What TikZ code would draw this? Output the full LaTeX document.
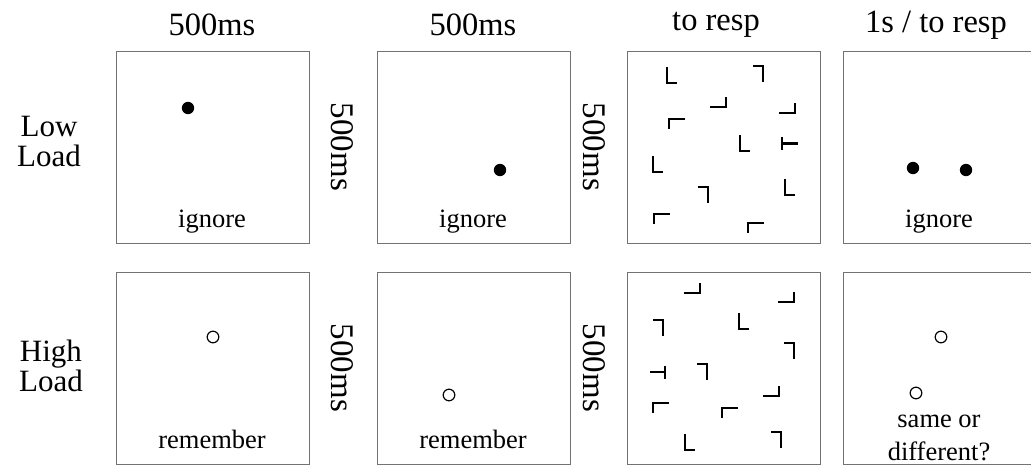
\documentclass[tikz,border=0pt]{standalone}
\usepackage{fontspec}
\setmainfont{Liberation Serif}
\begin{document}
\begin{tikzpicture}[x=1pt,y=-1pt,
  panel/.style={draw=black!55,line width=1pt,minimum width=193pt,minimum height=192pt,inner sep=0pt,anchor=north west},
  head/.style={font=\fontsize{32.5}{34}\selectfont,inner sep=0pt},
  rowlab/.style={font=\fontsize{31}{30}\selectfont,inner sep=0pt,align=center},
  vlab/.style={font=\fontsize{33}{34}\selectfont,inner sep=0pt,rotate=-90},
  plab/.style={font=\fontsize{26.5}{33}\selectfont,inner sep=0pt,align=center},
  item/.style={line width=2.4pt,line cap=butt,line join=miter},
  fdot/.style={fill=black,draw=none},
  odot/.style={draw=black,line width=1.2pt,fill=white}]
\useasboundingbox (0,0) rectangle (1031,468);
% panels
\node[panel] (p11) at (116,51) {};
\node[panel] (p12) at (377,51) {};
\node[panel] (p13) at (627,51) {};
\node[panel] (p14) at (843,51) {};
\node[panel] (p21) at (116,272) {};
\node[panel] (p22) at (377,272) {};
\node[panel] (p23) at (627,272) {};
\node[panel] (p24) at (843,272) {};
% headers
\node[head] (h1) at (212,25) {500ms};
\node[head] (h2) at (473,25) {500ms};
\node[head] (h3) at (716,25) {to resp};
\node[head] (h4) at (936,25) {1s / to resp};
% row labels
\node[rowlab] (r1) at (49,142) {Low\\Load};
\node[rowlab] (r2) at (51,366) {High\\Load};
% interval labels
\node[vlab] (v11) at (342,147) {500ms};
\node[vlab] (v12) at (594,147) {500ms};
\node[vlab] (v21) at (342,368) {500ms};
\node[vlab] (v22) at (594,368) {500ms};
% panel texts
\node[plab] (t11) at (212,222) {ignore};
\node[plab] (t12) at (473,222) {ignore};
\node[plab] (t14) at (939,222) {ignore};
\node[plab] (t21) at (212,439) {remember};
\node[plab] (t22) at (473,439) {remember};
\node[plab] (t24) at (939,438) {same or\\different?};
% dots
\fill[fdot] (188,108) circle (6.2);
\fill[fdot] (500,170) circle (6.2);
\fill[fdot] (913,168) circle (6.2);
\fill[fdot] (966,170) circle (6.2);
\draw[odot] (213,337) circle (5.8);
\draw[odot] (449,395) circle (5.8);
\draw[odot] (941,337) circle (5.8);
\draw[odot] (916,393) circle (5.8);
% search display, low load
\draw[item] (667,83) ++(0,-16) -- ++(0,16) -- ++(10,0);
\draw[item] (763,66) ++(-10,0) -- ++(10,0) -- ++(0,16);
\draw[item] (726,107) ++(-16,0) -- ++(16,0) -- ++(0,-10);
\draw[item] (795,113) ++(-16,0) -- ++(16,0) -- ++(0,-10);
\draw[item] (669,119) ++(16,0) -- ++(-16,0) -- ++(0,10);
\draw[item] (740,151) ++(0,-16) -- ++(0,16) -- ++(10,0);
\draw[item] (782,137) -- (782,150) (782,143.5) -- (798,143.5);
\draw[item] (653,172) ++(0,-16) -- ++(0,16) -- ++(10,0);
\draw[item] (785,195) ++(0,-16) -- ++(0,16) -- ++(10,0);
\draw[item] (708,187) ++(-10,0) -- ++(10,0) -- ++(0,16);
\draw[item] (654,214) ++(16,0) -- ++(-16,0) -- ++(0,10);
\draw[item] (748,223) ++(16,0) -- ++(-16,0) -- ++(0,10);
% search display, high load
\draw[item] (700,293) ++(-16,0) -- ++(16,0) -- ++(0,-10);
\draw[item] (794,302) ++(-16,0) -- ++(16,0) -- ++(0,-10);
\draw[item] (663,320) ++(-10,0) -- ++(10,0) -- ++(0,16);
\draw[item] (739,329) ++(0,-16) -- ++(0,16) -- ++(10,0);
\draw[item] (794,343) ++(-10,0) -- ++(10,0) -- ++(0,16);
\draw[item] (650,372) -- (665,372) (665,365.5) -- (665,378.5);
\draw[item] (707,364) ++(-10,0) -- ++(10,0) -- ++(0,16);
\draw[item] (779,396) ++(-16,0) -- ++(16,0) -- ++(0,-10);
\draw[item] (653,403) ++(16,0) -- ++(-16,0) -- ++(0,10);
\draw[item] (722,408) ++(16,0) -- ++(-16,0) -- ++(0,10);
\draw[item] (685,450) ++(0,-16) -- ++(0,16) -- ++(10,0);
\draw[item] (781,432) ++(-10,0) -- ++(10,0) -- ++(0,16);
\end{tikzpicture}
\end{document}
